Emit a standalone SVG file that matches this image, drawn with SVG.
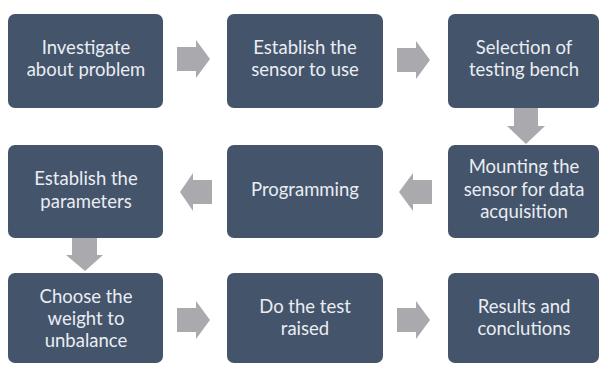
<svg xmlns="http://www.w3.org/2000/svg" width="601" height="365" viewBox="0 0 601 365">
<style>
.box{fill:#44546a;}
.t{fill:#e9edf3;font-family:Lato,"Open Sans",sans-serif;font-size:18.5px;text-anchor:middle;}
.arr{fill:#aaaaae;}
</style>
<rect width="601" height="365" fill="#ffffff"/>
<g id="connectors">
<polygon class="arr" points="177,47 196,47 196,40 210,59 196,78 196,71 177,71"/>
<polygon class="arr" points="397,48 416,48 416,41 430,60 416,79 416,72 397,72"/>
<polygon class="arr" points="514,108 538,108 538,126 545,126 526,144 507,126 514,126"/>
<polygon class="arr" points="432,180 413,180 413,173 399,192 413,211 413,204 432,204"/>
<polygon class="arr" points="212,180 193,180 193,173 180,192 193,211 193,204 212,204"/>
<polygon class="arr" points="72,238 97,238 97,255 103,255 85,271 66,255 72,255"/>
<polygon class="arr" points="177,308 196,308 196,301 210,320 196,339 196,332 177,332"/>
<polygon class="arr" points="397,308 416,308 416,301 430,320 416,339 416,332 397,332"/>
</g>
<g id="n1"><rect class="box" x="8" y="14" width="155" height="94" rx="7"/><text class="t" x="86" y="54">Investigate</text><text class="t" x="86" y="76">about problem</text></g>
<g id="n2"><rect class="box" x="227" y="14" width="156" height="94" rx="7"/><text class="t" x="305" y="54">Establish the</text><text class="t" x="305" y="76">sensor to use</text></g>
<g id="n3"><rect class="box" x="448" y="14" width="151" height="94" rx="7"/><text class="t" x="524" y="54">Selection of</text><text class="t" x="524" y="76">testing bench</text></g>
<g id="n4"><rect class="box" x="448" y="145" width="151" height="93" rx="7"/><text class="t" x="524" y="173">Mounting the</text><text class="t" x="524" y="196">sensor for data</text><text class="t" x="524" y="218">acquisition</text></g>
<g id="n5"><rect class="box" x="227" y="145" width="156" height="93" rx="7"/><text class="t" x="305" y="196">Programming</text></g>
<g id="n6"><rect class="box" x="8" y="145" width="155" height="93" rx="7"/><text class="t" x="86" y="185">Establish the</text><text class="t" x="86" y="208">parameters</text></g>
<g id="n7"><rect class="box" x="8" y="273" width="155" height="90" rx="7"/><text class="t" x="86" y="303">Choose the</text><text class="t" x="86" y="325">weight to</text><text class="t" x="86" y="347">unbalance</text></g>
<g id="n8"><rect class="box" x="227" y="273" width="156" height="90" rx="7"/><text class="t" x="305" y="313">Do the test</text><text class="t" x="305" y="335">raised</text></g>
<g id="n9"><rect class="box" x="448" y="273" width="151" height="90" rx="7"/><text class="t" x="524" y="313">Results and</text><text class="t" x="524" y="335">conclutions</text></g>
</svg>
